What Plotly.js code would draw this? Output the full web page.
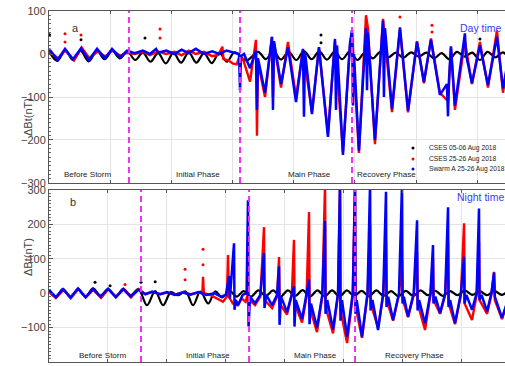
<!DOCTYPE html>
<html><head><meta charset="utf-8">
<script src="https://cdn.plot.ly/plotly-3.0.1.min.js"></script>
<style>html,body{margin:0;padding:0;overflow:hidden;background:#fff;width:505px;height:366px}#chart{width:520px;height:366px}</style>
</head><body><div id="chart"></div>
<script>
// ===== Panel a (day time), x in hours =====
const topBlackX=[0,0.8,1.6,2.35,3.1,3.9,4.7,5.45,6.2,6.95,7.7,8.45,9.2,9.95,10.7,11.45,12.2,12.95,13.7,14.45,15.2,15.95,16.7,17.45,18.2,
19.35,20.5,21.25,22.0,22.75,23.5,24.25,25.0,25.75,26.5,27.25,28.0,28.75,29.5,30.25,31.0,31.75,32.5,33.25,34.0,34.75,35.5,36.25,37.0,37.75,38.5,39.25,40.0,40.75,41.5,42.25,43.0,43.75,44.5,45.25,46.0,46.75];
const topBlackY=[6,-16,8,-14,7,-17,8,-12,7,-10,6,-14,3,-18,2,-22,3,-20,4,-20,2,-21,3,-18,4,
-15,5,-12,6,-13,5,-14,7,-12,6,-13,5,-12,6,-14,4,-10,5,-8,3,-9,4,-6,3,-10,2,-12,5,-6,3,-14,5,-8,4,-10,3,-9];

const topRedX=[0,0.9,1.6,2.45,3.2,3.95,4.8,5.5,6.2,7.0,7.7,
8.4,9.2,9.9,10.7,11.5,12.3,13.0,13.7,14.4,15.2,15.98,16.6,17.0,17.1,17.6,18.0,18.4,18.6,
18.73,19.0,19.71,20.29,20.39,20.49,21.18,21.86,21.96,22.06,22.75,23.43,24.22,24.9,25.78,26.47,27.35,28.04,28.82,29.51,29.71,30.39,31.08,31.27,31.96,32.75,33.63,34.41,35.2,36.08,36.76,37.45,38.33,39.12,39.41,39.8,40.78,41.47,42.25,43.04,43.92,44.51,45.2,45.98,46.7];
const topRedY=[5,-10,8,-15,15,-10,6,-6,8,-4,3,
0,5,-3,6,0,5,-3,8,0,5,-5,-2,17,-12,-15,-22,-24,-10,
-18,-10,-64,33,-190,-20,-100,40,-100,25,-78,28,-100,10,-135,15,-185,30,-228,20,50,-230,90,60,-210,82,-135,58,-136,30,-68,36,-90,-110,15,-130,30,-70,28,-78,55,-90,10,-45,5];

const topBlueX=[0,0.85,1.57,2.35,3.14,3.92,4.71,5.49,6.18,6.96,7.65,
8.4,9.2,9.9,10.5,10.7,11.5,12.3,13.0,13.7,14.4,15.2,16.0,16.7,17.4,18.2,18.63,
18.73,18.82,19.12,19.71,20.29,20.39,20.49,21.18,21.86,21.96,22.06,22.75,23.43,24.22,24.9,25.0,25.1,25.78,26.47,27.35,28.04,28.14,28.24,28.82,29.51,29.71,29.8,29.9,30.39,31.08,31.18,31.27,31.96,32.75,32.84,32.94,33.63,34.41,35.2,36.08,36.76,37.45,38.33,39.02,39.12,39.22,39.41,39.8,40.78,40.88,41.47,42.25,43.04,43.92,44.51,45.2,45.98,46.7];
const topBlueY=[12,-14,12,-12,13,-14,12,-10,12,-8,8,
2,8,0,12,3,8,0,10,2,12,0,6,0,8,3,0,
-84,-5,0,-33,8,-130,-10,-90,40,-130,30,-70,16,-112,12,-146,5,-140,16,-193,35,-130,20,-235,25,56,-120,0,-225,60,-84,50,-200,78,-100,60,-128,62,-132,28,-65,33,-95,-70,-145,-60,18,-120,48,0,-68,20,-72,40,-80,10,-40,5];

const topBlackDotX=[0.05,3.14,9.41,26.67,26.67,42.25];
const topBlackDotY=[45,33,37,44,26,35];
const topRedDotX=[1.57,1.57,3.14,10.88,10.88,34.41,37.55,37.55];
const topRedDotY=[47,28,44,58,37,86,67,51];
const topPhaseBounds=[7.84,18.73,29.71];

// ===== Panel b (night time), x in hours =====
const botBlackX=[0,0.7,1.42,2.2,2.95,3.72,4.48,5.25,6.0,6.8,7.55,8.3,9.1,
9.97,10.8,11.6,12.4,13.1,13.9,14.65,15.4,16.2,16.9,17.6,18.4,19.1,19.8,
20.55,21.3,22.05,22.8,23.55,24.3,25.05,25.8,26.55,27.3,28.05,28.8,29.55,30.3,31.05,31.8,32.55,33.3,34.05,34.8,35.55,36.3,37.05,37.8,38.55,39.3,40.05,40.8,41.55,42.3,43.05,43.8,44.55,45.3,46.05,46.8,47.55,48.3];
const botBlackY=[5,-10,12,-12,12,-10,14,-8,12,-9,13,-6,12,
-35,6,-35,3,-6,5,-35,5,-30,5,-12,6,-10,6,
-10,8,-8,8,-10,8,-8,9,-10,8,-9,8,-10,8,-8,7,-9,8,-8,6,-9,7,-8,8,-6,7,-8,6,-6,8,-5,6,-6,7,-5,6,-6,5];

const botRedX=[0,0.7,1.5,2.2,3.0,3.75,4.5,5.3,6.05,6.8,7.6,8.35,9.1,9.8,
10.5,11.3,12.0,12.8,13.6,14.4,15.2,15.6,15.67,15.75,16.4,17.1,17.7,18.1,18.21,18.3,18.7,19.2,19.6,20.0,20.24,
20.4,20.96,21.5,21.87,21.93,22.69,23.2,23.4,23.46,24.21,24.7,24.92,24.98,25.74,26.2,26.45,26.51,27.26,27.8,28.08,28.14,28.89,29.4,29.6,29.66,30.32,30.9,31.13,31.19,31.84,32.4,32.66,32.72,33.47,34.0,34.28,34.35,35.0,35.6,35.91,36.0,36.52,37.1,37.44,37.5,38.25,38.8,39.06,39.12,39.78,40.3,40.59,40.65,41.3,41.9,42.22,42.28,43.03,43.5,43.74,43.8,44.56,45.0,45.27,45.35,46.08,46.9,47.6];
const botRedY=[5,-14,10,-15,12,-12,10,-14,12,-10,12,-12,12,-2,
3,-3,2,-4,3,-3,2,0,48,0,-5,-15,-25,-10,111,-10,-30,-35,-15,-25,0,
-20,-35,-10,192,-20,-43,-10,105,-30,-62,-5,155,-30,-85,-10,236,-40,-113,-10,320,-40,-117,-5,320,-50,-145,-5,320,-40,-130,-5,200,-30,-100,-5,150,-20,-80,-5,100,-20,-70,-5,120,-30,-107,-5,100,-20,-60,-5,150,-30,-90,-5,203,-30,-78,-5,150,-20,-60,-5,62,-20,-75,-5,-45];

const botBlueX=[0,0.7,1.42,2.2,2.95,3.72,4.48,5.25,6.0,6.8,7.55,8.3,9.1,9.8,
10.5,11.3,12.0,12.8,13.6,14.4,15.2,16.0,16.8,17.5,18.0,18.31,18.4,18.82,18.87,19.0,19.23,19.7,20.1,
20.24,20.3,20.45,20.96,21.5,21.87,21.92,22.1,22.69,23.2,23.4,23.45,23.6,24.21,24.7,24.92,24.97,25.1,25.74,26.2,26.45,26.5,26.65,27.26,27.8,28.08,28.13,28.3,28.89,29.4,29.6,29.65,29.8,30.32,30.9,31.13,31.18,31.3,31.84,32.4,32.66,32.71,32.9,33.47,34.0,34.28,34.33,34.5,35.0,35.6,35.91,35.96,36.1,36.52,37.1,37.44,37.49,37.65,38.25,38.8,39.06,39.11,39.3,39.78,40.3,40.59,40.64,40.8,41.3,41.9,42.22,42.27,42.45,43.03,43.5,43.74,43.79,44.0,44.56,45.0,45.27,45.35,46.08,46.9,47.6];
const botBlueY=[10,-12,12,-12,14,-12,12,-10,13,-12,12,-10,10,-3,
5,-3,3,-5,2,-4,3,-5,0,-10,-5,50,-15,145,-48,-20,-35,-5,0,
270,-97,-10,-29,-5,117,-43,-5,-35,-5,78,-92,-10,-55,0,20,-97,-20,-75,-5,40,-90,-30,-100,-5,210,-60,-20,-105,0,320,-80,-20,-126,0,320,-60,-20,-126,0,320,-50,-20,-107,0,295,-40,-10,-78,0,320,-30,-10,-68,0,212,-50,-20,-88,0,140,-30,-10,-58,0,250,-40,-20,-87,0,106,-30,-5,-48,0,246,-20,-5,-53,0,60,-10,-72,0,-40];

const botBlackDotX=[4.68,6.21,9.36,10.8,20.24];
const botBlackDotY=[32,22,32,33,35];
const botRedDotX=[7.73,13.84,13.84,15.67,15.67];
const botRedDotY=[25,70,39,128,83];
const botPhaseBounds=[9.36,20.35,31.13];

const phaseNames=['Before Storm','Initial Phase','Main Phase','Recovery Phase'];
const topPhaseLabelX=[3.73,14.6,25.5,33.1];
const botPhaseLabelX=[5.49,16.17,27.06,37.2];
const legendNames=['CSES 05-06 Aug 2018','CSES 25-26 Aug 2018','Swarm A 25-26 Aug 2018'];
const seriesColors=['#000000','#ff0000','#0000ff'];

const FONT='"Liberation Sans", Arial, Helvetica, sans-serif';

function lineTrace(x,y,c,w,xa,ya,shape){
  return {x:x,y:y,type:'scatter',mode:'lines',line:{color:c,width:w,shape:shape||'linear'},xaxis:xa,yaxis:ya,showlegend:false,hoverinfo:'skip'};
}
function dotTrace(x,y,c,xa,ya){
  return {x:x,y:y,type:'scatter',mode:'markers',marker:{color:c,size:3},xaxis:xa,yaxis:ya,showlegend:false,hoverinfo:'skip'};
}
const data=[
  lineTrace(topBlackX,topBlackY,seriesColors[0],2.2,'x','y','spline'),
  lineTrace(topRedX,topRedY,seriesColors[1],2.4,'x','y'),
  lineTrace(topBlueX,topBlueY,seriesColors[2],2.5,'x','y'),
  dotTrace(topBlackDotX,topBlackDotY,seriesColors[0],'x','y'),
  dotTrace(topRedDotX,topRedDotY,seriesColors[1],'x','y'),
  lineTrace(botBlackX,botBlackY,seriesColors[0],2.2,'x2','y2','spline'),
  lineTrace(botRedX,botRedY,seriesColors[1],2.4,'x2','y2'),
  lineTrace(botBlueX,botBlueY,seriesColors[2],2.5,'x2','y2'),
  dotTrace(botBlackDotX,botBlackDotY,seriesColors[0],'x2','y2'),
  dotTrace(botRedDotX,botRedDotY,seriesColors[1],'x2','y2')
];

const W=520,H=366,ML=49,MT=11,MB=4;
const PW=W-ML, PH=H-MT-MB;
function px2paperX(p){return (p-ML)/PW;}
function py2paperY(p){return (H-MB-p)/PH;}

const xBase={showticklabels:false,showgrid:true,gridcolor:'#e4e4e4',gridwidth:1,zeroline:false,showline:true,linecolor:'#555',linewidth:1,mirror:'ticks',ticks:'inside',ticklen:3,tickcolor:'#555',dtick:6,tick0:0};
const yBase={showgrid:true,gridcolor:'#e4e4e4',zeroline:false,showline:true,linecolor:'#555',linewidth:1,mirror:'ticks',ticks:'inside',ticklen:4,tickcolor:'#555',dtick:100,
  tickfont:{family:FONT,size:11,color:'#444'},minor:{ticks:'inside',ticklen:2,dtick:10,tickcolor:'#666',showgrid:false}};

const shapes=[];
topPhaseBounds.forEach(b=>shapes.push({type:'line',xref:'x',yref:'y domain',x0:b,x1:b,y0:0,y1:1,line:{color:'#ee33ee',width:2,dash:'6px,4px'}}));
botPhaseBounds.forEach(b=>shapes.push({type:'line',xref:'x2',yref:'y2 domain',x0:b,x1:b,y0:0,y1:1,line:{color:'#ee33ee',width:2,dash:'6px,4px'}}));

const ann=[];
phaseNames.forEach((n,i)=>{
  ann.push({x:topPhaseLabelX[i],y:-281,xref:'x',yref:'y',text:n,showarrow:false,font:{family:FONT,size:8,color:'#222'}});
  ann.push({x:botPhaseLabelX[i],y:-180,xref:'x2',yref:'y2',text:n,showarrow:false,font:{family:FONT,size:8,color:'#222'}});
});
ann.push({x:px2paperX(70),y:py2paperY(20),xref:'paper',yref:'paper',text:'a',showarrow:false,font:{family:FONT,size:11,color:'#333'}});
ann.push({x:px2paperX(68),y:py2paperY(202),xref:'paper',yref:'paper',text:'b',showarrow:false,font:{family:FONT,size:11,color:'#333'}});
ann.push({x:px2paperX(504),y:py2paperY(20),xref:'paper',yref:'paper',xanchor:'right',text:'Day time',showarrow:false,font:{family:FONT,size:10.5,color:'#3a3af0'}});
ann.push({x:px2paperX(506),y:py2paperY(197),xref:'paper',yref:'paper',xanchor:'right',text:'Night time',showarrow:false,font:{family:FONT,size:10.5,color:'#3a3af0'}});
ann.push({x:px2paperX(20),y:py2paperY(96),xref:'paper',yref:'paper',text:'ΔBt(nT)',textangle:-90,showarrow:false,font:{family:FONT,size:11,color:'#444'}});
ann.push({x:px2paperX(20),y:py2paperY(278),xref:'paper',yref:'paper',text:'ΔBt(nT)',textangle:-90,showarrow:false,font:{family:FONT,size:11,color:'#444'}});
// legend (manual, panel a)
const legRows=[148,159,169];
legendNames.forEach((n,i)=>{
  ann.push({x:px2paperX(427),y:py2paperY(legRows[i]),xref:'paper',yref:'paper',xanchor:'left',text:n,showarrow:false,font:{family:FONT,size:6.7,color:'#222'}});
  shapes.push({type:'circle',xref:'paper',yref:'paper',xsizemode:'pixel',ysizemode:'pixel',xanchor:px2paperX(413),yanchor:py2paperY(legRows[i]),x0:-1.5,x1:1.5,y0:-1.5,y1:1.5,fillcolor:seriesColors[i],line:{width:0}});
});

const layout={
  width:W,height:H,margin:{l:ML,r:0,t:MT,b:MB},paper_bgcolor:'#fff',plot_bgcolor:'#fff',showlegend:false,
  font:{family:FONT},
  xaxis:Object.assign({},xBase,{anchor:'y',range:[0,46.18],domain:[0,1]}),
  yaxis:Object.assign({},yBase,{anchor:'x',range:[-300,100],domain:[0.51,1]}),
  xaxis2:Object.assign({},xBase,{anchor:'y2',range:[0,47.91],domain:[0,1]}),
  yaxis2:Object.assign({},yBase,{anchor:'x2',range:[-200,300],domain:[0,0.49]}),
  shapes:shapes,annotations:ann
};
Plotly.newPlot('chart',data,layout,{displayModeBar:false,staticPlot:true});
</script></body></html>
